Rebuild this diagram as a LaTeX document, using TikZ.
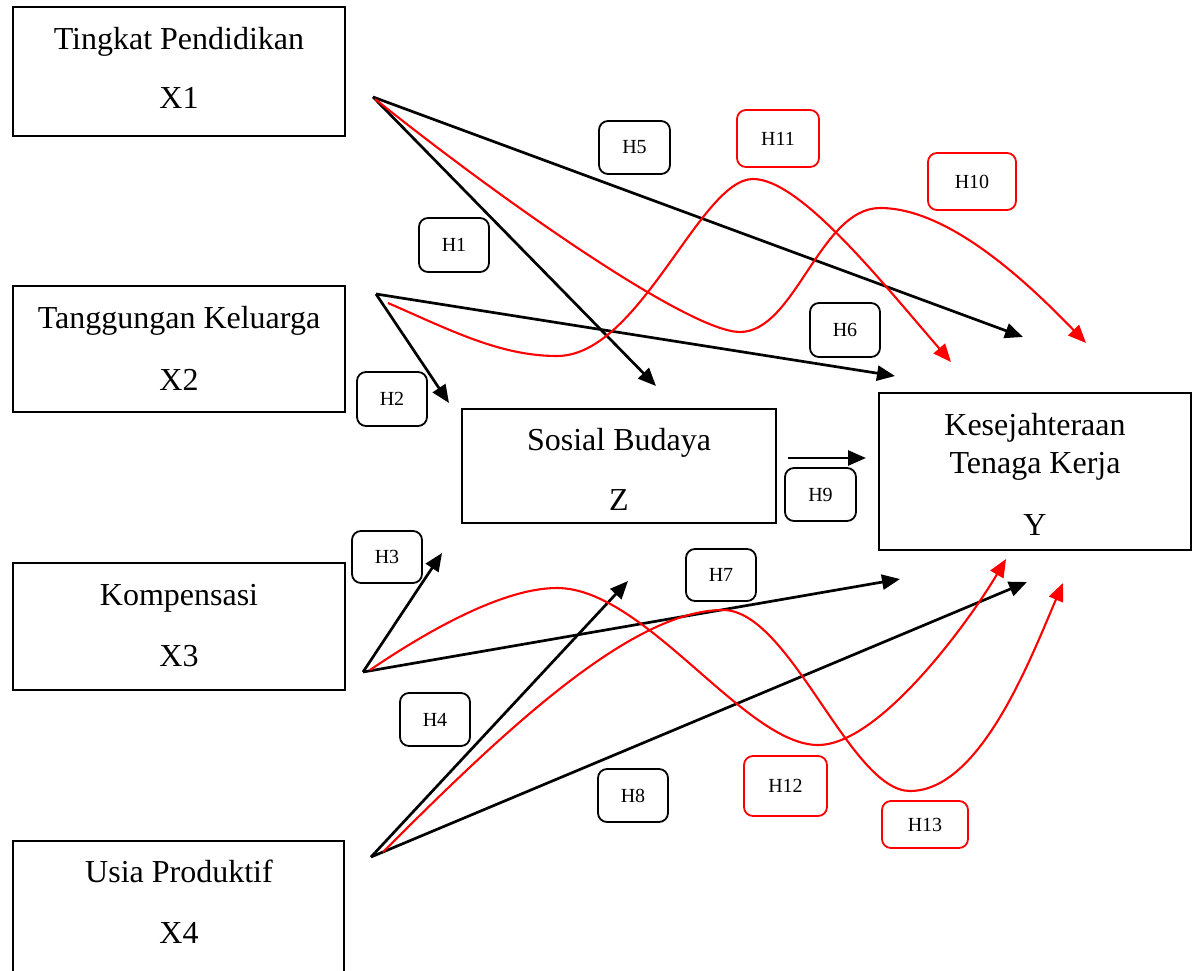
\documentclass[tikz,border=0pt]{standalone}
\usepackage{fontspec}
\setmainfont{Liberation Serif}
\usetikzlibrary{arrows.meta}
\begin{document}
\begin{tikzpicture}[x=1pt,y=-1pt,
  box/.style={draw, line width=2pt, inner sep=0pt},
  lbl/.style={draw, line width=1.8pt, rounded corners=9pt, inner sep=0pt, font=\fontsize{20}{24}\selectfont},
  rlbl/.style={lbl, draw=red},
  big/.style={font=\fontsize{32}{36}\selectfont, anchor=base, inner sep=0pt},
  blk/.style={line width=2.7pt, -{Triangle[length=18pt,width=15pt]}},
  rd/.style={red, line width=2.1pt, -{Triangle[length=18pt,width=15pt]}},
]
\clip (0,0) rectangle (1200,971);
% boxes
\node[box, minimum width=332pt, minimum height=129pt] (x1) at (179,71.5) {};
\node[box, minimum width=332pt, minimum height=126pt] (x2) at (179,349) {};
\node[box, minimum width=332pt, minimum height=127pt] (x3) at (179,626.5) {};
\node[box, minimum width=331pt, minimum height=160pt] (x4) at (178.5,921) {};
\node[box, minimum width=314pt, minimum height=114pt] (z) at (619,466) {};
\node[box, minimum width=312pt, minimum height=157pt] (y) at (1035,471.5) {};
% box texts
\node[big] (x1a) at (179,50) {Tingkat Pendidikan};
\node[big] (x1b) at (179,109) {X1};
\node[big] (x2a) at (179,328) {Tanggungan Keluarga};
\node[big] (x2b) at (179,390) {X2};
\node[big] (x3a) at (179,605) {Kompensasi};
\node[big] (x3b) at (179,666) {X3};
\node[big] (x4a) at (179,882) {Usia Produktif};
\node[big] (x4b) at (179,943) {X4};
\node[big] (za) at (619,450) {Sosial Budaya};
\node[big] (zb) at (619,510) {Z};
\node[big] (ya) at (1035,435) {Kesejahteraan};
\node[big] (yb) at (1035,473) {Tenaga Kerja};
\node[big] (yc) at (1035,535) {Y};
% connector points
\coordinate (o1) at (373,97);
\coordinate (o2) at (376,294);
\coordinate (o3) at (363,672);
\coordinate (o4) at (371,857);
\coordinate (r1) at (375,99);
\coordinate (r2) at (388,303);
\coordinate (r3) at (370,670);
\coordinate (r4) at (383,852);
\coordinate (t1) at (656,386);
\coordinate (t2) at (449,403);
\coordinate (t3) at (442,553);
\coordinate (t4) at (628,581);
\coordinate (t5) at (1023,337);
\coordinate (t6) at (895,376);
\coordinate (t7) at (900,579);
\coordinate (t8) at (1027,582);
\coordinate (s9) at (788,458);
\coordinate (t9) at (866,458);
\coordinate (t10) at (1086,343);
\coordinate (t11) at (951,362);
\coordinate (t12) at (1006,559);
\coordinate (t13) at (1063,583);
% black arrows
\draw[blk] (o1) -- (t1);
\draw[blk] (o1) -- (t5);
\draw[blk] (o2) -- (t2);
\draw[blk] (o2) -- (t6);
\draw[blk] (o3) -- (t3);
\draw[blk] (o3) -- (t7);
\draw[blk] (o4) -- (t4);
\draw[blk] (o4) -- (t8);
\draw[blk] (s9) -- (t9);
% red curves
\draw[rd] (r1) .. controls (505,203) and (690,332) .. (740,332)
  .. controls (795,332) and (820,208) .. (880,208)
  .. controls (950,208) and (1030,285) .. (t10);
\draw[rd] (r2) .. controls (450,330) and (500,356) .. (557,356)
  .. controls (640,356) and (700,179) .. (753,179)
  .. controls (800,179) and (880,280) .. (t11);
\draw[rd] (r3) .. controls (420,636) and (500,588) .. (557,588)
  .. controls (645,588) and (745,745) .. (818,745)
  .. controls (880,745) and (970,620) .. (t12);
\draw[rd] (r4) .. controls (500,735) and (630,610) .. (723,610)
  .. controls (790,610) and (850,791) .. (910,791)
  .. controls (980,791) and (1030,660) .. (t13);
% labels
\node[lbl, minimum width=70pt, minimum height=54pt] (h1) at (454,245) {H1};
\node[lbl, minimum width=70pt, minimum height=54pt] (h2) at (392,399) {H2};
\node[lbl, minimum width=70pt, minimum height=52pt] (h3) at (387,557) {H3};
\node[lbl, minimum width=70pt, minimum height=53pt] (h4) at (435,719.5) {H4};
\node[lbl, minimum width=71pt, minimum height=53pt] (h5) at (634.5,147.5) {H5};
\node[lbl, minimum width=70pt, minimum height=54pt] (h6) at (845,330) {H6};
\node[lbl, minimum width=70pt, minimum height=52pt] (h7) at (721,575) {H7};
\node[lbl, minimum width=70pt, minimum height=53pt] (h8) at (633,795.5) {H8};
\node[lbl, minimum width=71pt, minimum height=53pt] (h9) at (820.5,494.5) {H9};
\node[rlbl, minimum width=88pt, minimum height=57pt] (h10) at (972,181.5) {H10};
\node[rlbl, minimum width=82pt, minimum height=57pt] (h11) at (778,138.5) {H11};
\node[rlbl, minimum width=83pt, minimum height=60pt] (h12) at (785.5,786) {H12};
\node[rlbl, minimum width=86pt, minimum height=47pt] (h13) at (925,824.5) {H13};
\end{tikzpicture}
\end{document}
